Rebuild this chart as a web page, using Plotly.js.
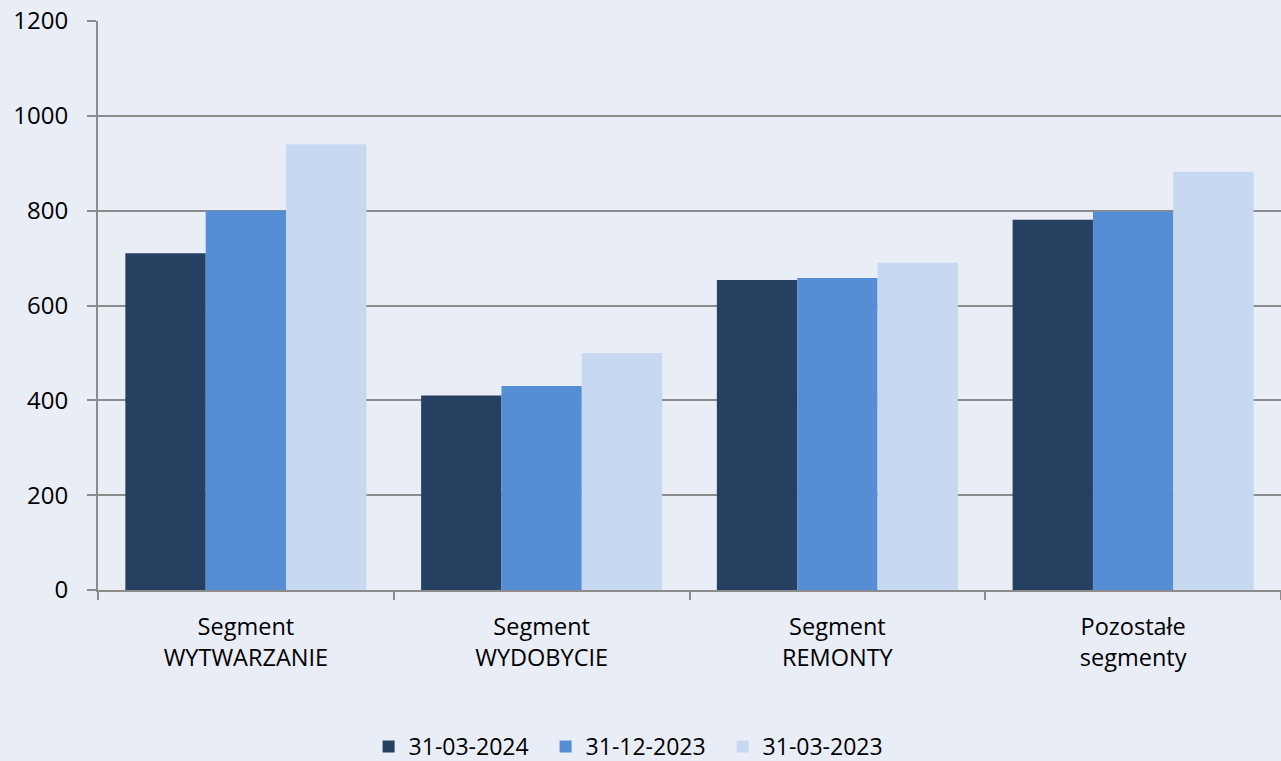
<!DOCTYPE html>
<html>
<head>
<meta charset="utf-8">
<script src="https://cdn.plot.ly/plotly-3.0.1.min.js"></script>
<style>html,body{margin:0;padding:0;background:#E9EDF6;}#chart{width:1281px;height:761px;}</style>
</head>
<body>
<div id="chart"></div>
<script>
const categories = ["Segment<br>WYTWARZANIE", "Segment<br>WYDOBYCIE", "Segment<br>REMONTY", "Pozostałe<br>segmenty"];
const seriesNames = ["31-03-2024", "31-12-2023", "31-03-2023"];
const values_2024_03 = [710, 410, 654, 781];
const values_2023_12 = [800, 430, 658, 798];
const values_2023_03 = [940, 500, 690, 882];
const colors = ["#264061", "#558ED5", "#C6D9F1"];
const yTicks = [0, 200, 400, 600, 800, 1000, 1200];

const allValues = [values_2024_03, values_2023_12, values_2023_03];
const traces = allValues.map((vals, i) => ({
  type: 'bar',
  name: seriesNames[i],
  x: categories,
  y: vals,
  marker: {color: colors[i], line: {width: 0}},
  hoverinfo: 'none'
}));

const font = {family: 'Open Sans, sans-serif', size: 24, color: '#000'};
const layout = {
  width: 1281, height: 761,
  paper_bgcolor: '#E9EDF6',
  plot_bgcolor: '#E9EDF6',
  font: font,
  barmode: 'group',
  bargap: 0.185,
  bargroupgap: 0,
  margin: {l: 98, r: 0, t: 21, b: 171},
  showlegend: true,
  legend: {
    orientation: 'h',
    xref: 'container', yref: 'container',
    x: 0.495, xanchor: 'center',
    y: 0.019, yanchor: 'middle',
    font: {family: 'Open Sans, sans-serif', size: 23, color: '#000'},
    itemwidth: 30,
    entrywidth: 132,
    entrywidthmode: 'pixels',
    tracegroupgap: 0,
    bgcolor: 'rgba(0,0,0,0)'
  },
  xaxis: {
    type: 'category',
    showline: true, linecolor: '#8C8C8C', linewidth: 2,
    ticks: 'outside', tickson: 'boundaries', ticklen: 8, tickcolor: '#8C8C8C', tickwidth: 2,
    showgrid: false,
    tickfont: {family: 'Open Sans, sans-serif', size: 23.5, color: '#000'},
    ticklabelstandoff: 15
  },
  yaxis: {
    range: [0, 1200],
    tickvals: yTicks,
    ticktext: yTicks.map(String),
    showline: true, linecolor: '#8C8C8C', linewidth: 2,
    showgrid: true, gridcolor: '#8C8C8C', gridwidth: 2,
    zeroline: false,
    ticks: 'outside', ticklen: 9, tickcolor: '#8C8C8C', tickwidth: 2,
    tickfont: {family: 'Open Sans, sans-serif', size: 24, color: '#000'},
    ticklabelstandoff: 14
  }
};

Plotly.newPlot('chart', traces, layout, {displayModeBar: false, staticPlot: true});
</script>
</body>
</html>
